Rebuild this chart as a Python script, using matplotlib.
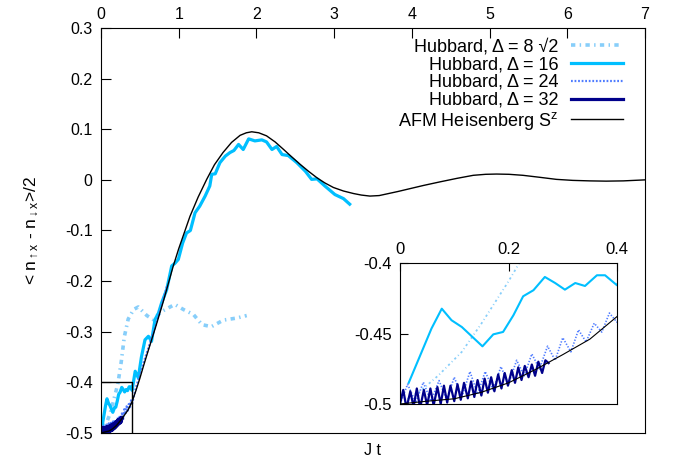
import numpy as np
import matplotlib
matplotlib.use('Agg')
import matplotlib.pyplot as plt
from matplotlib.ticker import FormatStrFormatter

plt.rcParams['font.family'] = ['Liberation Sans', 'DejaVu Sans']
plt.rcParams['mathtext.fontset'] = 'custom'
plt.rcParams['mathtext.rm'] = 'Liberation Sans'
plt.rcParams['mathtext.it'] = 'Liberation Sans'
plt.rcParams['axes.unicode_minus'] = False

# Hubbard, Delta = 8 sqrt(2)
t_d8 = [0.0, 0.04, 0.07, 0.114, 0.15, 0.2, 0.22, 0.26, 0.3, 0.35, 0.42, 0.48,
        0.59, 0.67, 0.78, 0.95, 1.06, 1.19, 1.3, 1.42, 1.575, 1.745, 1.875]
v_d8 = [-0.5, -0.49, -0.48, -0.463, -0.443, -0.413, -0.4, -0.36, -0.31, -0.275,
        -0.256, -0.251, -0.268, -0.276, -0.26, -0.246, -0.256, -0.266, -0.286,
        -0.29, -0.277, -0.273, -0.268]

# Hubbard, Delta = 16
t_d16 = [0.016, 0.058, 0.077, 0.095, 0.114, 0.152, 0.172, 0.19, 0.209, 0.227,
         0.246, 0.267, 0.286, 0.304, 0.323, 0.341, 0.363, 0.378, 0.40, 0.44,
         0.48, 0.52, 0.566, 0.61, 0.65, 0.695, 0.74, 0.78, 0.845, 0.91, 0.95,
         0.995, 1.05, 1.10, 1.15, 1.21, 1.27, 1.34, 1.40, 1.425, 1.47, 1.53,
         1.60, 1.66, 1.71, 1.77, 1.83, 1.90, 1.98, 2.07, 2.13, 2.20, 2.26, 2.33,
         2.41, 2.52, 2.63, 2.71, 2.78, 2.88, 3.01, 3.12, 3.2]
v_d16 = [-0.485, -0.4465, -0.4324, -0.4406, -0.4454, -0.4591, -0.4506, -0.4489,
         -0.4371, -0.4236, -0.4193, -0.4099, -0.4142, -0.4189, -0.4142, -0.4163,
         -0.4087, -0.4087, -0.4158, -0.378, -0.391, -0.35, -0.316, -0.309,
         -0.319, -0.276, -0.263, -0.243, -0.217, -0.170, -0.165, -0.157, -0.125,
         -0.105, -0.100, -0.065, -0.052, -0.032, -0.012, 0.011, 0.012, 0.034,
         0.047, 0.054, 0.058, 0.070, 0.060, 0.081, 0.077, 0.079, 0.075, 0.060,
         0.066, 0.050, 0.048, 0.034, 0.017, 0.001, 0.002, -0.012, -0.029,
         -0.037, -0.048]

# Hubbard, Delta = 24
t_d24 = [0.0, 0.014, 0.029, 0.043, 0.057, 0.072, 0.086, 0.100, 0.114, 0.129,
         0.143, 0.157, 0.172, 0.186, 0.200, 0.215, 0.229, 0.243, 0.257, 0.272,
         0.286, 0.300, 0.315, 0.329, 0.343, 0.358, 0.372, 0.386, 0.400,
         0.45, 0.5, 0.55, 0.6, 0.65, 0.7, 0.75, 0.8, 0.85]
v_d24 = [-0.5, -0.486, -0.499, -0.4846, -0.498, -0.4834, -0.497, -0.481, -0.495,
         -0.477, -0.493, -0.477, -0.490, -0.4735, -0.486, -0.469, -0.480,
         -0.4645, -0.475, -0.459, -0.469, -0.453, -0.463, -0.4474, -0.456,
         -0.4427, -0.449, -0.4355, -0.442,
         -0.41, -0.385, -0.36, -0.337, -0.313, -0.29, -0.263, -0.237, -0.21]

# Hubbard, Delta = 32
t_d32 = [0.0, 0.006, 0.012, 0.019, 0.025, 0.031, 0.037, 0.044, 0.050, 0.056,
         0.062, 0.069, 0.075, 0.081, 0.087, 0.093, 0.100, 0.106, 0.112, 0.118,
         0.125, 0.131, 0.137, 0.143, 0.150, 0.156, 0.162, 0.168, 0.174, 0.181,
         0.187, 0.193, 0.199, 0.206, 0.212, 0.218, 0.224, 0.230, 0.237, 0.243,
         0.249, 0.255, 0.262, 0.268, 0.274]
v_d32 = [-0.500, -0.490, -0.503, -0.491, -0.502, -0.489, -0.503, -0.490, -0.501,
         -0.489, -0.501, -0.488, -0.500, -0.487, -0.499, -0.487, -0.498, -0.486,
         -0.497, -0.485, -0.496, -0.484, -0.495, -0.483, -0.494, -0.482, -0.492,
         -0.481, -0.491, -0.479, -0.489, -0.478, -0.487, -0.476, -0.485, -0.474,
         -0.483, -0.473, -0.481, -0.472, -0.480, -0.470, -0.478, -0.469, -0.471]

# AFM Heisenberg S^z
t_heis = [0.0, 0.05, 0.1, 0.15, 0.2, 0.25, 0.3, 0.35, 0.4, 0.45, 0.5, 0.55, 0.6,
          0.7, 0.8, 0.93, 1.0, 1.145, 1.25, 1.36, 1.46, 1.57, 1.68, 1.79, 1.87,
          1.94, 2.03, 2.13, 2.24, 2.35, 2.45, 2.56, 2.67, 2.78, 2.88, 2.99, 3.12,
          3.25, 3.35, 3.46, 3.58, 3.7, 3.82, 3.93, 4.15, 4.36, 4.58, 4.79, 4.95,
          5.09, 5.25, 5.43, 5.65, 5.86, 6.07, 6.29, 6.5, 6.72, 7.0]
v_heis = [-0.5, -0.498, -0.4963, -0.4917, -0.485, -0.4755, -0.465, -0.454,
          -0.438, -0.416, -0.392, -0.366, -0.341, -0.292, -0.241, -0.170, -0.136,
          -0.072, -0.034, 0.001, 0.030, 0.054, 0.074, 0.088, 0.093, 0.095, 0.093,
          0.087, 0.075, 0.060, 0.046, 0.031, 0.017, 0.004, -0.006, -0.015,
          -0.022, -0.027, -0.030, -0.032, -0.031, -0.027, -0.023, -0.019,
          -0.011, -0.004, 0.003, 0.009, 0.011, 0.0115, 0.011, 0.009, 0.005,
          0.001, -0.001, -0.002, -0.0025, -0.002, 0.0]

inset_x = (0.0, 0.4)
inset_y = (-0.5, -0.4)

fig = plt.figure(figsize=(6.77, 4.65), dpi=100)
ax = fig.add_axes([101 / 677, 1 - 433 / 465, 544 / 677, 405 / 465])

ax.plot(t_d8, v_d8, color='#87cefa', lw=2.6, ls=(0, (1.2, 1.2, 0.4, 1.2)),
        label='Hubbard, \u0394 = 8 \u221a2')
ax.plot(t_d16, v_d16, color='#00bfff', lw=2.3, label='Hubbard, \u0394 = 16')
ax.plot(t_d24, v_d24, color='#4f7cff', lw=1.6, ls=(0, (0.8, 0.8)),
        label='Hubbard, \u0394 = 24')
ax.plot(t_d32, v_d32, color='#00008b', lw=2.3, label='Hubbard, \u0394 = 32')
ax.plot(t_heis, v_heis, color='black', lw=1.0,
        label='AFM Heisenberg S$^{z}$')
# box marking the zoomed region
ax.plot([inset_x[0], inset_x[1], inset_x[1]], [inset_y[1], inset_y[1], inset_y[0]],
        color='black', lw=1.0)

ax.set_xlim(0, 7)
ax.set_ylim(-0.5, 0.3)
ax.set_xticks(range(0, 8))
ax.set_yticks([-0.5, -0.4, -0.3, -0.2, -0.1, 0, 0.1, 0.2, 0.3])
ax.yaxis.set_major_formatter(FormatStrFormatter('%g'))
ax.xaxis.tick_top()
ax.tick_params(axis='x', top=True, bottom=False, direction='in', length=7,
               labelsize=11.5, pad=4)
ax.tick_params(axis='y', left=True, right=False, direction='in', length=7,
               labelsize=11.5, pad=6)
ax.set_xlabel('J t', fontsize=11.5, labelpad=7)
ax.set_ylabel(r'< n$_{\uparrow \mathrm{x}}$ - n$_{\downarrow \mathrm{x}}$>/2',
              fontsize=12.5, labelpad=17)

ax.legend(loc='upper right', bbox_to_anchor=(0.96, 0.975), frameon=False,
          markerfirst=False, handlelength=2.9, handletextpad=0.7,
          labelspacing=0.05, fontsize=13, borderaxespad=0, borderpad=0)

axin = fig.add_axes([400 / 677, 1 - 404 / 465, 217 / 677, 141 / 465])
axin.plot(t_d8, v_d8, color='#87cefa', lw=1.3, ls=(0, (1.2, 1.6, 0.5, 1.6)))
axin.plot(t_d16, v_d16, color='#00bfff', lw=1.5)
axin.plot(t_d24, v_d24, color='#4f7cff', lw=1.2, ls=(0, (0.8, 1.0)))
axin.plot(t_d32, v_d32, color='#00008b', lw=1.6)
axin.plot(t_heis, v_heis, color='black', lw=0.8)
axin.set_xlim(*inset_x)
axin.set_ylim(*inset_y)
axin.set_xticks([0, 0.2, 0.4])
axin.set_yticks([-0.5, -0.45, -0.4])
axin.xaxis.set_major_formatter(FormatStrFormatter('%g'))
axin.yaxis.set_major_formatter(FormatStrFormatter('%g'))
axin.xaxis.tick_top()
axin.tick_params(axis='x', top=True, bottom=False, direction='in', length=6,
                 labelsize=12, pad=4)
axin.tick_params(axis='y', left=True, right=False, direction='in', length=6,
                 labelsize=12, pad=6)

fig.savefig('out.png', dpi=100)
